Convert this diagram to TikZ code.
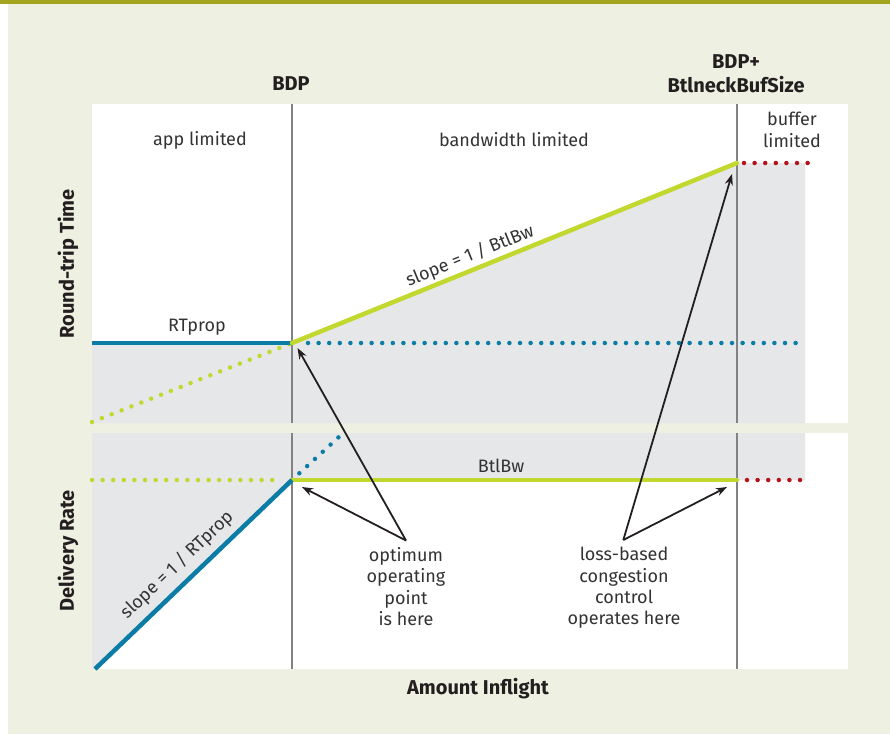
\documentclass[tikz,border=0pt]{standalone}
\usepackage{fontspec}
\setmainfont{Fira Sans}
\usetikzlibrary{arrows.meta,calc}
\definecolor{beige}{HTML}{EEF0E1}
\definecolor{olive}{HTML}{A3A51E}
\definecolor{fillgray}{HTML}{E6E7E8}
\definecolor{lime}{HTML}{C3D82E}
\definecolor{tblue}{HTML}{0A7CA6}
\definecolor{tred}{HTML}{B5121B}
\definecolor{vgray}{HTML}{808285}
\definecolor{txt}{HTML}{333335}
\definecolor{arr}{HTML}{231F20}
\begin{document}
\begin{tikzpicture}[x=1pt,y=-1pt,
  lbl/.style={text=txt,font=\fontsize{18}{21.4}\selectfont,align=center,inner sep=0pt},
  blbl/.style={text=arr,font=\fontsize{20}{24}\selectfont\bfseries,align=center,inner sep=0pt},
  solidline/.style={line width=4.5pt},
  dotline/.style={line width=4.5pt,line cap=round,dash pattern=on 0pt off 10.6pt},
  vline/.style={draw=vgray,line width=1.5pt},
  pointer/.style={draw=arr,line width=1.8pt,-{Stealth[length=11pt,width=8pt]}}]
\useasboundingbox (0,0) rectangle (890,734);
% background
\fill[beige] (0,0) rectangle (890,734);
\fill[white] (0,0) rectangle (8,734);
\fill[olive] (0,0) rectangle (890,4);
% plot panels
\fill[white] (92,104) rectangle (848,423);
\fill[white] (92,433) rectangle (848,669);
% gray fills
\fill[fillgray] (92,343) -- (292,343) -- (737,163) -- (805,163) -- (805,423) -- (92,423) -- cycle;
\fill[fillgray] (92,433) -- (805,433) -- (805,480) -- (292,480) -- (95,669) -- (92,669) -- cycle;
% key points
\coordinate (optU) at (292,343);
\coordinate (optL) at (292,480);
\coordinate (bufU) at (737,163);
\coordinate (bufL) at (737,480);
\coordinate (rtL) at (92,343);
\coordinate (grStart) at (92,422);
\coordinate (bwL) at (92,480);
\coordinate (blStart) at (95,669);
\coordinate (blEnd) at (341,435);
\coordinate (rtEnd) at (803,343);
\coordinate (redUEnd) at (809,163);
\coordinate (redLEnd) at (803,480);
% vertical lines
\draw[vline] (292,104) -- (292,423);
\draw[vline] (292,433) -- (292,669);
\draw[vline] (737,104) -- (737,423);
\draw[vline] (737,433) -- (737,669);
% dotted lines
\draw[dotline,draw=lime] (grStart) -- (optU);
\draw[dotline,draw=tblue] ([xshift=16pt]optU) -- (rtEnd);
\draw[dotline,draw=lime] (bwL) -- ([xshift=-10pt]optL);
\draw[dotline,draw=tblue] ($(optL)!0.15!(blEnd)$) -- (blEnd);
\draw[dotline,draw=tred] ([xshift=7pt]bufU) -- (redUEnd);
\draw[dotline,draw=tred] ([xshift=10pt]bufL) -- (redLEnd);
% solid lines
\draw[solidline,draw=tblue] (rtL) -- (optU);
\draw[solidline,draw=lime,line cap=round] (optU) -- (bufU);
\draw[solidline,draw=lime,line cap=round] (optL) -- (bufL);
\draw[solidline,draw=tblue] (blStart) -- (optL);
% labels
\node[blbl] (bdp) at (291,84) {BDP};
\node[blbl] (bdpbuf) at (736,74) {BDP+\\BtlneckBufSize};
\node[blbl] (xaxis) at (478,689) {Amount Inflight};
\node[blbl,rotate=90] (yrtt) at (68,264) {Round-trip Time};
\node[blbl,rotate=90] (ydr) at (68,551) {Delivery Rate};
\node[lbl] (app) at (200,140) {app limited};
\node[lbl] (bw) at (514,140) {bandwidth limited};
\node[lbl] (buf) at (792,130) {buffer\\limited};
\node[lbl] (rtprop) at (197,327) {RTprop};
\node[lbl] (btlbw) at (501,466) {BtlBw};
\node[lbl,rotate=22] (slopebw) at (470,256) {slope = 1 / BtlBw};
\node[lbl,rotate=43.5] (slopert) at (177,565) {slope = 1 / RTprop};
\node[lbl,anchor=north] (opt) at (406,547) {optimum\\operating\\point\\is here};
\node[lbl,anchor=north] (loss) at (624,547) {loss-based\\congestion\\control\\operates here};
% arrows
\coordinate (optTail) at (406,540.5);
\coordinate (lossTail) at (623.3,540);
\coordinate (optTipU) at (297.5,348);
\coordinate (optTipL) at (302,487);
\coordinate (lossTipU) at (732,174);
\coordinate (lossTipL) at (727,487);
\draw[pointer] (optTail) -- (optTipU);
\draw[pointer] (optTail) -- (optTipL);
\draw[pointer] (lossTail) -- (lossTipU);
\draw[pointer] (lossTail) -- (lossTipL);
\end{tikzpicture}
\end{document}
